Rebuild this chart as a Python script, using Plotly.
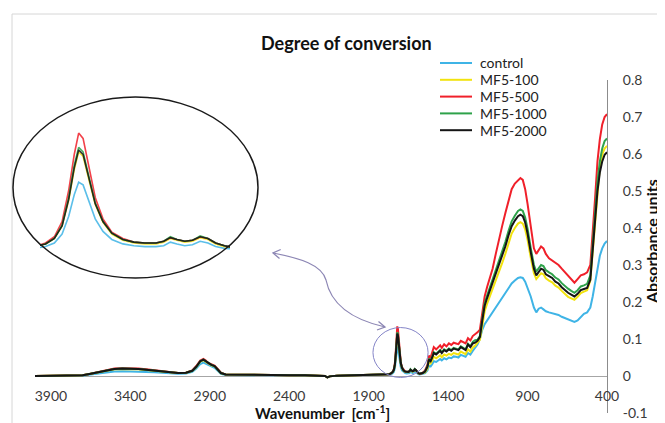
import plotly.graph_objects as go

# ---------------- data ----------------
wavenumber = [
    4000, 3800, 3700, 3650, 3600, 3550, 3500, 3450, 3400, 3350,
    3300, 3250, 3200, 3150, 3100, 3050, 3010, 2985, 2960, 2940,
    2925, 2910, 2890, 2870, 2850, 2830, 2800, 2700, 2600, 2500,
    2400, 2300, 2200, 2175, 2160, 2145, 2100, 2000, 1900, 1800,
    1770, 1760, 1750, 1742, 1735, 1729, 1724, 1720, 1716, 1711,
    1705, 1698, 1690, 1680, 1670, 1660, 1650, 1643, 1637, 1631,
    1624, 1617, 1610, 1603, 1596, 1588, 1580, 1570, 1560,
    1545, 1530, 1520, 1510, 1500, 1490, 1475, 1460, 1450, 1440,
    1425, 1410, 1395, 1380, 1365, 1350, 1335, 1320, 1305, 1290,
    1275, 1260, 1245, 1230, 1215, 1200, 1185, 1170, 1155, 1140,
    1120, 1100, 1080, 1060, 1040, 1020, 1000, 980, 960, 945,
    930, 915, 900, 880, 860, 845, 830, 815, 800, 785,
    765, 745, 725, 705, 685, 665, 645, 625, 605, 585,
    565, 545, 525, 505, 490, 475, 460, 445, 430, 415, 400,
]

control = [
    0.000, 0.000, 0.001, 0.004, 0.007, 0.010, 0.012, 0.013, 0.013, 0.012,
    0.011, 0.010, 0.008, 0.007, 0.006, 0.007, 0.011, 0.020, 0.032, 0.036,
    0.033, 0.028, 0.025, 0.022, 0.014, 0.006, 0.003, 0.002, 0.002, 0.002,
    0.002, 0.002, 0.001, 0.000, -0.004, -0.001, 0.001, 0.002, 0.002, 0.003,
    0.004, 0.005, 0.007, 0.011, 0.021, 0.041, 0.065, 0.079, 0.076, 0.058,
    0.038, 0.024, 0.015, 0.010, 0.008, 0.007, 0.007, 0.008, 0.012, 0.010,
    0.008, 0.009, 0.013, 0.011, 0.007, 0.005, 0.004, 0.004, 0.006,
    0.008, 0.015, 0.028, 0.026, 0.032, 0.040, 0.038, 0.043, 0.046, 0.042,
    0.048, 0.045, 0.050, 0.048, 0.053, 0.052, 0.050, 0.057, 0.055, 0.052,
    0.062, 0.058, 0.068, 0.075, 0.085, 0.100, 0.125, 0.140, 0.150, 0.160,
    0.172, 0.185, 0.198, 0.210, 0.225, 0.238, 0.250, 0.258, 0.265, 0.267,
    0.265, 0.255, 0.238, 0.215, 0.185, 0.172, 0.182, 0.185, 0.180, 0.175,
    0.172, 0.170, 0.168, 0.165, 0.160, 0.156, 0.152, 0.148, 0.146, 0.150,
    0.160, 0.168, 0.172, 0.185, 0.215, 0.255, 0.295, 0.325, 0.345, 0.358, 0.365,
]

mf5_100 = [
    0.000, 0.000, 0.002, 0.006, 0.010, 0.015, 0.018, 0.019, 0.019, 0.018,
    0.016, 0.014, 0.011, 0.009, 0.008, 0.009, 0.014, 0.024, 0.039, 0.043,
    0.039, 0.033, 0.029, 0.026, 0.017, 0.008, 0.004, 0.003, 0.002, 0.002,
    0.002, 0.002, 0.001, 0.000, -0.004, -0.001, 0.001, 0.002, 0.003, 0.004,
    0.005, 0.007, 0.010, 0.016, 0.030, 0.059, 0.093, 0.113, 0.108, 0.083,
    0.054, 0.034, 0.021, 0.014, 0.011, 0.010, 0.010, 0.012, 0.016, 0.014,
    0.012, 0.013, 0.017, 0.015, 0.010, 0.007, 0.006, 0.006, 0.008,
    0.010, 0.020, 0.038, 0.034, 0.042, 0.052, 0.048, 0.054, 0.056, 0.051,
    0.058, 0.055, 0.060, 0.057, 0.062, 0.060, 0.058, 0.066, 0.063, 0.059,
    0.072, 0.066, 0.077, 0.082, 0.090, 0.098, 0.135, 0.175, 0.195, 0.212,
    0.234, 0.256, 0.280, 0.305, 0.330, 0.358, 0.385, 0.400, 0.412, 0.416,
    0.412, 0.396, 0.368, 0.320, 0.278, 0.262, 0.270, 0.278, 0.275, 0.264,
    0.258, 0.253, 0.244, 0.239, 0.230, 0.222, 0.214, 0.210, 0.206, 0.214,
    0.224, 0.228, 0.232, 0.258, 0.335, 0.425, 0.510, 0.565, 0.598, 0.615, 0.622,
]

mf5_500 = [
    0.000, 0.000, 0.002, 0.006, 0.011, 0.016, 0.020, 0.021, 0.021, 0.020,
    0.018, 0.016, 0.013, 0.010, 0.008, 0.009, 0.015, 0.027, 0.042, 0.046,
    0.042, 0.035, 0.031, 0.028, 0.019, 0.009, 0.004, 0.003, 0.002, 0.002,
    0.002, 0.002, 0.001, 0.000, -0.004, -0.001, 0.001, 0.002, 0.003, 0.004,
    0.005, 0.007, 0.011, 0.018, 0.035, 0.070, 0.110, 0.134, 0.128, 0.098,
    0.062, 0.038, 0.023, 0.016, 0.012, 0.011, 0.011, 0.013, 0.017, 0.015,
    0.013, 0.014, 0.018, 0.016, 0.011, 0.008, 0.006, 0.006, 0.009,
    0.015, 0.030, 0.055, 0.050, 0.065, 0.078, 0.072, 0.080, 0.083, 0.076,
    0.086, 0.080, 0.088, 0.084, 0.090, 0.088, 0.086, 0.095, 0.092, 0.088,
    0.102, 0.096, 0.108, 0.112, 0.118, 0.125, 0.170, 0.215, 0.240, 0.262,
    0.290, 0.330, 0.370, 0.405, 0.440, 0.475, 0.505, 0.520, 0.530, 0.535,
    0.530, 0.505, 0.465, 0.400, 0.345, 0.330, 0.340, 0.350, 0.345, 0.330,
    0.318, 0.312, 0.305, 0.300, 0.290, 0.280, 0.272, 0.262, 0.252, 0.262,
    0.272, 0.275, 0.280, 0.300, 0.380, 0.480, 0.580, 0.640, 0.680, 0.700, 0.708,
]

mf5_1000 = [
    0.000, 0.000, 0.002, 0.006, 0.011, 0.016, 0.019, 0.020, 0.020, 0.019,
    0.017, 0.015, 0.012, 0.010, 0.008, 0.009, 0.014, 0.025, 0.040, 0.044,
    0.040, 0.034, 0.030, 0.027, 0.018, 0.008, 0.004, 0.003, 0.002, 0.002,
    0.002, 0.002, 0.001, 0.000, -0.004, -0.001, 0.001, 0.002, 0.003, 0.004,
    0.005, 0.007, 0.010, 0.016, 0.031, 0.062, 0.098, 0.118, 0.113, 0.087,
    0.056, 0.035, 0.022, 0.015, 0.012, 0.011, 0.011, 0.013, 0.018, 0.015,
    0.013, 0.014, 0.019, 0.016, 0.011, 0.008, 0.006, 0.006, 0.008,
    0.013, 0.026, 0.047, 0.042, 0.052, 0.064, 0.060, 0.067, 0.070, 0.064,
    0.072, 0.068, 0.074, 0.070, 0.076, 0.074, 0.072, 0.080, 0.077, 0.072,
    0.087, 0.080, 0.092, 0.097, 0.098, 0.108, 0.155, 0.196, 0.217, 0.236,
    0.260, 0.284, 0.310, 0.336, 0.362, 0.392, 0.418, 0.433, 0.446, 0.450,
    0.446, 0.428, 0.398, 0.346, 0.300, 0.282, 0.292, 0.300, 0.297, 0.286,
    0.280, 0.275, 0.266, 0.261, 0.251, 0.243, 0.236, 0.230, 0.225, 0.232,
    0.242, 0.245, 0.249, 0.272, 0.345, 0.440, 0.525, 0.580, 0.615, 0.635, 0.642,
]

mf5_2000 = [
    0.000, 0.000, 0.002, 0.006, 0.011, 0.016, 0.019, 0.020, 0.020, 0.019,
    0.017, 0.015, 0.012, 0.010, 0.008, 0.009, 0.014, 0.025, 0.040, 0.044,
    0.040, 0.034, 0.030, 0.027, 0.018, 0.008, 0.004, 0.003, 0.002, 0.002,
    0.002, 0.002, 0.001, 0.000, -0.004, -0.001, 0.001, 0.002, 0.003, 0.004,
    0.005, 0.007, 0.010, 0.016, 0.030, 0.060, 0.095, 0.115, 0.110, 0.085,
    0.055, 0.035, 0.022, 0.015, 0.012, 0.011, 0.011, 0.013, 0.017, 0.015,
    0.013, 0.014, 0.018, 0.016, 0.011, 0.008, 0.006, 0.006, 0.008,
    0.012, 0.025, 0.045, 0.040, 0.050, 0.062, 0.058, 0.065, 0.068, 0.062,
    0.070, 0.066, 0.072, 0.068, 0.074, 0.072, 0.070, 0.078, 0.075, 0.070,
    0.085, 0.078, 0.088, 0.090, 0.095, 0.105, 0.150, 0.190, 0.210, 0.228,
    0.252, 0.275, 0.300, 0.325, 0.350, 0.380, 0.405, 0.420, 0.432, 0.436,
    0.432, 0.415, 0.385, 0.335, 0.290, 0.272, 0.282, 0.290, 0.287, 0.275,
    0.270, 0.265, 0.255, 0.250, 0.240, 0.232, 0.225, 0.220, 0.215, 0.222,
    0.232, 0.235, 0.238, 0.260, 0.330, 0.420, 0.500, 0.550, 0.580, 0.598, 0.605,
]

series_names = ["control", "MF5-100", "MF5-500", "MF5-1000", "MF5-2000"]
series_values = [control, mf5_100, mf5_500, mf5_1000, mf5_2000]
series_colors = ["#3fb4e6", "#f2e30f", "#f0202a", "#2ea24a", "#151515"]

x_ticks = [3900, 3400, 2900, 2400, 1900, 1400, 900, 400]
y_ticks = [-0.1, 0, 0.1, 0.2, 0.3, 0.4, 0.5, 0.6, 0.7, 0.8]
y_tick_text = ["-0.1", "0", "0.1", "0.2", "0.3", "0.4", "0.5", "0.6", "0.7", "0.8"]

inset_x_range = [1755, 1583]
inset_y_range = [-0.008, 0.1486]

for v in series_values:
    assert len(v) == len(wavenumber), len(v)

# ---------------- layout geometry (page pixels) ----------------
PAGE_W, PAGE_H = 665, 423
OX, OY = 8, 8                     # default body margin of the html page
PL, PR, PT, PB = 35, 607, 80, 413  # plot area in page pixels


def px(x):
    return (x - PL) / (PR - PL)


def py(y):
    return (PB - y) / (PB - PT)


FONT = "Lato, 'Open Sans', sans-serif"
TXT = "#3a3a3a"
ARROW_COL = "#8c86b4"

fig = go.Figure()

# main spectra
for name, vals, col in zip(series_names, series_values, series_colors):
    fig.add_trace(go.Scatter(
        x=wavenumber, y=vals, mode="lines", name=name,
        line=dict(color=col, width=2), xaxis="x", yaxis="y",
        hoverinfo="skip", showlegend=False,
    ))

# magnified inset (same data, zoomed axes)
for name, vals, col in zip(series_names, series_values, series_colors):
    fig.add_trace(go.Scatter(
        x=wavenumber, y=vals, mode="lines", name=name,
        line=dict(color=col, width=1.6), opacity=0.85,
        xaxis="x2", yaxis="y2", showlegend=False, hoverinfo="skip",
    ))

fig.update_layout(
    width=PAGE_W - OX, height=PAGE_H - OY,
    margin=dict(l=PL - OX, r=PAGE_W - PR, t=PT - OY, b=PAGE_H - PB, autoexpand=False),
    paper_bgcolor="white", plot_bgcolor="rgba(0,0,0,0)",
    font=dict(family=FONT, size=14, color=TXT),
    showlegend=False,
    xaxis=dict(
        range=[4000, 400], tickvals=x_ticks, ticktext=[str(t) for t in x_ticks],
        showgrid=False, zeroline=False, showline=False,
        anchor="free", position=0.1 / 0.9,
        ticks="", ticklabelstandoff=10,
        tickfont=dict(family=FONT, size=14, color=TXT),
    ),
    yaxis=dict(
        range=[-0.1, 0.8], tickvals=y_ticks, ticktext=y_tick_text,
        side="right", showgrid=False, zeroline=True, zerolinecolor="#a6a6a6",
        zerolinewidth=1, showline=True, linecolor="#8c8c8c", linewidth=1,
        ticks="", ticklabelstandoff=12,
        tickfont=dict(family=FONT, size=14, color=TXT),
    ),
    xaxis2=dict(
        domain=[px(40), px(230)], range=inset_x_range, anchor="y2",
        visible=False, showgrid=False,
    ),
    yaxis2=dict(
        domain=[py(260), py(120)], range=inset_y_range, anchor="x2",
        visible=False, showgrid=False,
    ),
)

# chart frame (light border of the original chart area)
fig.add_shape(type="rect", xref="paper", yref="paper",
              x0=px(12), x1=px(720), y0=py(450), y1=py(14),
              line=dict(color="#d6d6d6", width=1), layer="below")

# ellipse around the magnified inset
fig.add_shape(type="circle", xref="paper", yref="paper",
              x0=px(13), x1=px(258), y0=py(278), y1=py(97),
              line=dict(color="#1a1a1a", width=1.5))

# small circle highlighting the 1720 cm-1 peak
fig.add_shape(type="circle", xref="x", yref="y",
              x0=1873, x1=1526, y0=-0.004, y1=0.131,
              line=dict(color="#8585c8", width=1))

# curved double arrow linking the circle to the inset
pts = [(273, 253), (300, 258), (322, 265), (326, 280), (330, 300), (345, 318), (385, 327)]
path = "M {},{} C {},{} {},{} {},{} C {},{} {},{} {},{}".format(
    *[v for p in pts for v in (px(p[0]), py(p[1]))])
fig.add_shape(type="path", xref="paper", yref="paper", path=path,
              line=dict(color=ARROW_COL, width=1.2))
heads = [
    [(280.7, 249.5), (273, 253), (279.5, 258.5)],
    [(378.5, 321.5), (385, 327), (377.0, 330.0)],
]
for head in heads:
    hp = "M {},{} L {},{} L {},{}".format(*[v for p in head for v in (px(p[0]), py(p[1]))])
    fig.add_shape(type="path", xref="paper", yref="paper", path=hp,
                  line=dict(color=ARROW_COL, width=1.3))

# legend (drawn by hand to match row spacing)
LEG_X0, LEG_X1, LEG_TX, LEG_Y0, LEG_DY = 440, 472, 478, 63, 16.8
for i, (name, col) in enumerate(zip(series_names, series_colors)):
    yy = LEG_Y0 + LEG_DY * i
    fig.add_shape(type="line", xref="paper", yref="paper",
                  x0=px(LEG_X0), x1=px(LEG_X1), y0=py(yy), y1=py(yy),
                  line=dict(color=col, width=2))
    fig.add_annotation(text=name, xref="paper", yref="paper",
                       x=px(LEG_TX), y=py(yy), xanchor="left", yanchor="middle",
                       showarrow=False, font=dict(family=FONT, size=14, color="#222"))

# title and axis titles
fig.add_annotation(text="<b>Degree of conversion</b>", xref="paper", yref="paper",
                   x=px(346), y=py(43), xanchor="center", yanchor="middle",
                   showarrow=False, font=dict(family=FONT, size=18, color="#111"))
fig.add_annotation(text="<b>Wavenumber  [cm<sup>-1</sup>]</b>", xref="paper", yref="paper",
                   x=px(322), y=py(412), xanchor="center", yanchor="middle",
                   showarrow=False, font=dict(family=FONT, size=15, color="#111"))
fig.add_annotation(text="<b>Absorbance units</b>", xref="paper", yref="paper",
                   x=px(651), y=py(242), xanchor="center", yanchor="middle",
                   textangle=-90, showarrow=False,
                   font=dict(family=FONT, size=16, color="#111"))

fig.write_html("out.html")
